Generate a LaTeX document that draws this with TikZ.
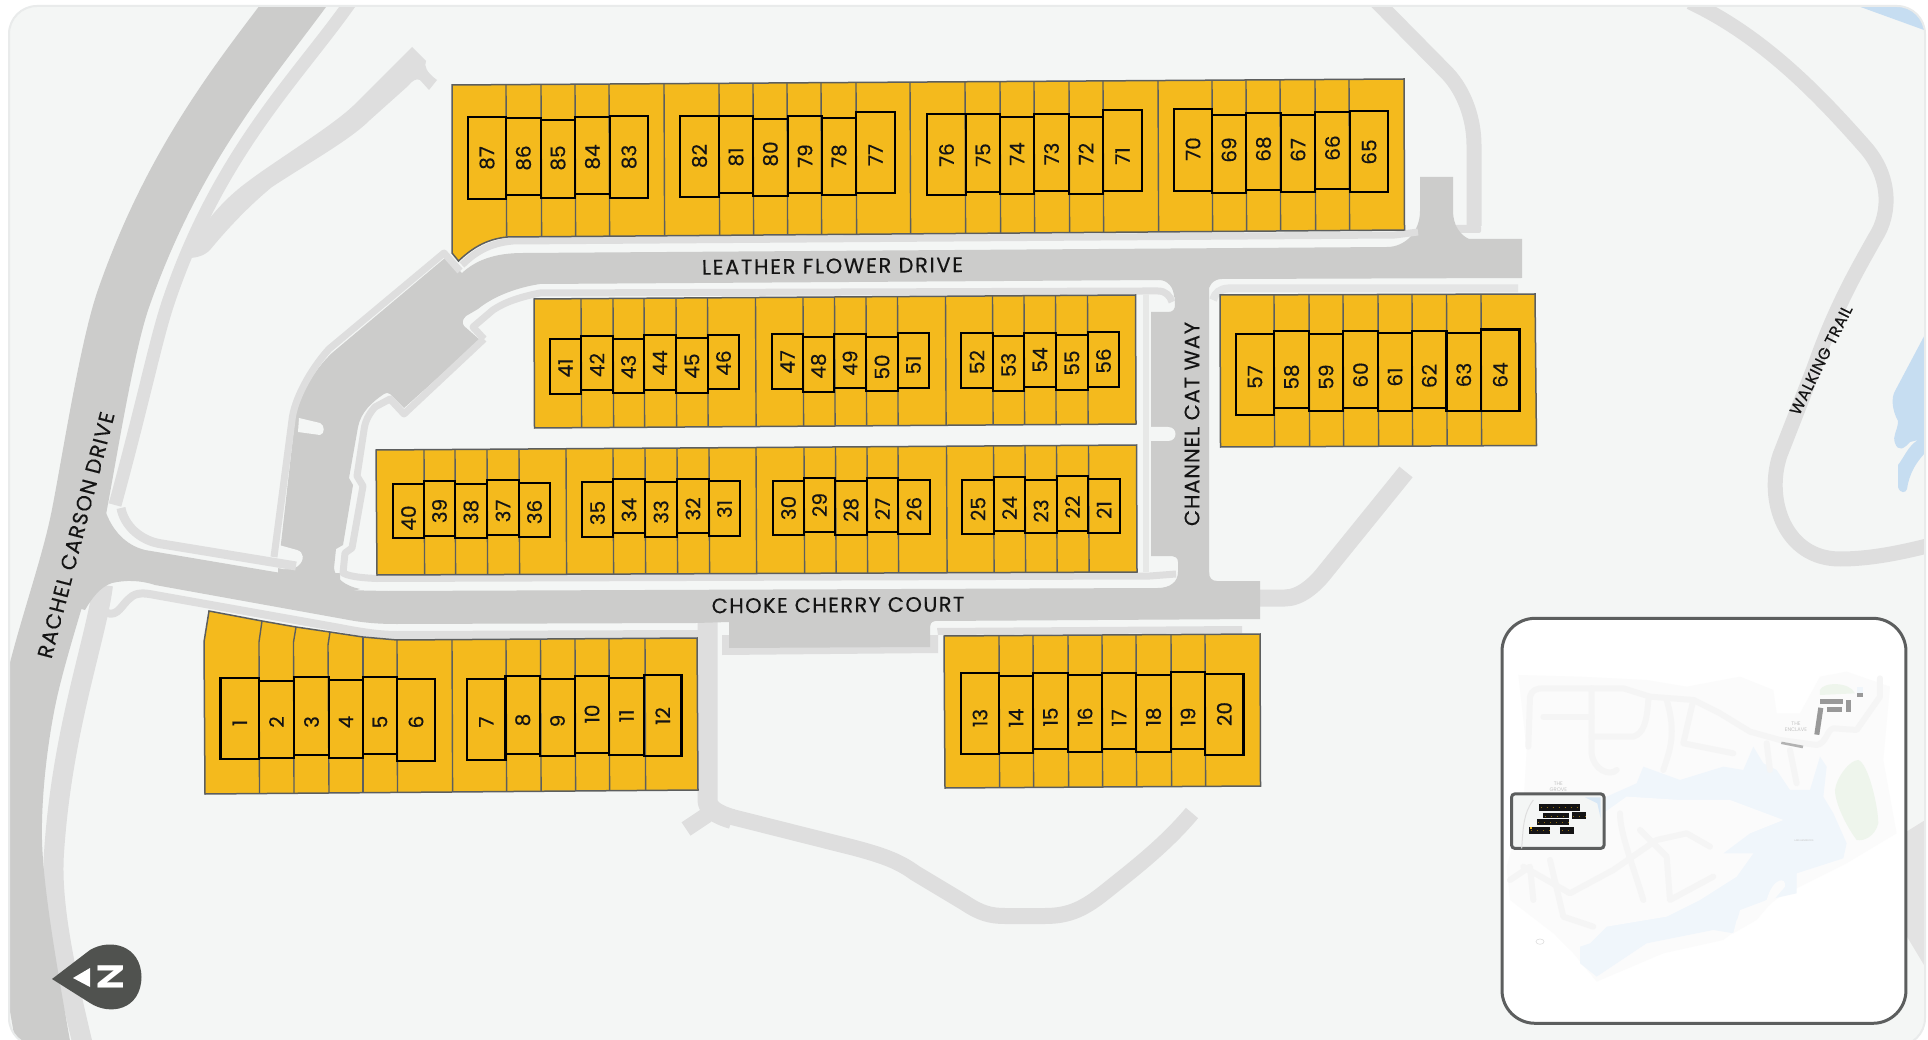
\documentclass[tikz,border=0pt]{standalone}
\usepackage{fontspec}
\setmainfont{Poppins}
\newfontfamily\labfont{Poppins}[FakeBold=0.35]
\newfontfamily\roadfont{Poppins}[FakeBold=0.25]
\newfontfamily\boldfont{Lato Black}
\definecolor{panelc}{HTML}{F4F6F5}
\definecolor{borderc}{HTML}{E9EBEB}
\definecolor{roadc}{HTML}{CCCCCB}
\definecolor{walkc}{HTML}{DEDEDE}
\definecolor{lotc}{HTML}{F4BA1D}
\definecolor{edgec}{HTML}{5C5E5E}
\definecolor{waterc}{HTML}{C6DDF1}
\definecolor{badgec}{HTML}{50524F}
\definecolor{insetwater}{HTML}{F0F6FB}
\definecolor{insetland}{HTML}{FBFBFB}
\definecolor{insetgreen}{HTML}{EEF5EC}
\definecolor{insetroad}{HTML}{F5F5F5}
\definecolor{insettext}{HTML}{C4C4C4}
\tikzset{
  walk/.style={draw=walkc,line cap=butt,line join=round},
  road/.style={draw=roadc,line cap=butt},
  roadfill/.style={fill=roadc},
  blockfill/.style={fill=lotc,draw=edgec,line width=1.5pt,line join=miter},
  divider/.style={draw=edgec,line width=1.4pt},
  footprint/.style={draw=black,line width=2.2pt,line join=miter},
  lotlabel/.style={rotate=90,inner sep=0pt,text=black!92,font=\labfont\fontsize{20}{20}\selectfont},
  roadlabel/.style={inner sep=0pt,text=black!92,font=\roadfont\fontsize{21}{21}\selectfont},
  insetline/.style={draw=insetroad,line width=6pt,line cap=round,line join=round},
  insetlabel/.style={inner sep=0pt,text=insettext,align=center,font=\fontsize{5.2}{6}\selectfont}
}
\newcommand{\fp}[6]{%
  \draw[footprint] (#1,#3) rectangle (#2,#4);
  \pgfmathsetmacro{\labx}{(#1+#2)/2}
  \node[lotlabel] (L#5) at (\labx,#6) {#5};
}
\newcommand{\dividers}[7]{%
  \foreach \dx in {#7}{%
    \pgfmathsetmacro{\dt}{#3+(\dx-#1)/(#2-#1)*(#4-#3)}
    \pgfmathsetmacro{\db}{#5+(\dx-#1)/(#2-#1)*(#6-#5)}
    \draw[divider] (\dx,\dt) -- (\dx+0.6,\db);
  }%
}
\begin{document}
\begin{tikzpicture}[x=1pt,y=-1pt]
\useasboundingbox (0,0) rectangle (1928,1040);
\fill[white] (0,0) rectangle (1928,1040);
\begin{scope}
\clip[rounded corners=28pt] (9,6) rectangle (1925,1046);
\fill[panelc] (0,0) rectangle (1928,1046);
% water
\fill[waterc] (1855,5) -- (1930,5) -- (1930,32) -- (1924,30) -- cycle;
\fill[waterc] (1930,325) -- (1895,391) .. controls (1891,398) and (1892,410) .. (1898,421) .. controls (1898,430) and (1892,436) .. (1895,443) .. controls (1898,452) and (1904,449) .. (1910,442) -- (1918,440) .. controls (1908,446) and (1905,456) .. (1898,465) -- (1898,487) .. controls (1900,494) and (1906,493) .. (1907,489) .. controls (1909,475) and (1915,462) .. (1930,448) -- cycle;
% grey land behind the inset
\fill[walkc!85!white] (1906,832) -- (1930,817) -- (1930,975) -- (1906,935) -- cycle;
% walking paths
\draw[walk,line width=15pt] (1690,2) .. controls (1760,35) and (1815,90) .. (1865,147) .. controls (1890,175) and (1892,212) .. (1875,238) .. controls (1860,265) and (1836,305) .. (1814,368) -- (1780,455) .. controls (1765,500) and (1785,559) .. (1840,559) .. controls (1870,559) and (1900,553) .. (1935,544);
\draw[walk,line width=15pt] (1375,0) -- (1447,73) .. controls (1465,92) and (1474,120) .. (1474,145) -- (1474,226);
\fill[walkc,rounded corners=2pt] (1454,225) rectangle (1481,233);
\draw[walk,line width=16pt] (732,817) -- (855,848) .. controls (885,856) and (900,862) .. (915,873) -- (965,903) .. controls (980,913) and (990,916) .. (1005,916) -- (1045,916) .. controls (1070,916) and (1085,908) .. (1105,892) .. controls (1135,868) and (1165,845) .. (1192,813);
\draw[walk,line width=20pt] (707.5,618) -- (707.5,800) .. controls (707.5,808) and (715,814) .. (732,819);
\draw[walk,line width=16pt] (707,815) -- (686,829);
\draw[walk,line width=17pt] (1260,598) -- (1285,598) .. controls (1300,598) and (1315,585) .. (1325,572) -- (1406,472);
\fill[walkc] (203,227) .. controls (225,197) and (243,185) .. (261,172) .. controls (300,145) and (340,120) .. (357,102) -- (412,47) -- (426,61) .. controls (424,66) and (426,72) .. (437,80) -- (429,90) -- (420,80) .. controls (416,78) and (412,81) .. (408,86) -- (370,120) .. controls (350,140) and (310,162) .. (272,187) .. controls (250,205) and (228,228) .. (210,250) .. controls (204,256) and (196,258) .. (188,258) -- cycle;
\draw[walk,line width=13pt] (352,0) .. controls (300,75) and (220,150) .. (169,300) .. controls (156,338) and (145,395) .. (115,505);
\draw[walk,line width=20pt] (103,585) .. controls (96,640) and (62,730) .. (54,853) .. controls (50,910) and (70,990) .. (84,1050);
\draw[walk,line width=8pt] (107,613) .. controls (118,617) and (122,604) .. (130,598) .. controls (136,592) and (145,593) .. (155,595) -- (340,628) .. controls (360,632) and (380,635) .. (397,635) -- (698,634);
% parking bay surround and strip along row E
\fill[walkc] (722,635) -- (938,635) -- (938,653) -- (722,655) -- cycle;
\fill[walkc] (937,628) -- (1242,626) -- (1242,633) -- (938,635) -- cycle;
% road bodies
\draw[road,line width=54pt] (305,-10) .. controls (250,65) and (175,150) .. (123,300) .. controls (106,350) and (88,467) .. (78,517) .. controls (68,567) and (45,630) .. (31,690) .. controls (22,730) and (14,790) .. (15,840) .. controls (16,890) and (30,970) .. (46,1060);
\path[roadfill] (105,510) .. controls (112,530) and (125,545) .. (145,550) -- (281,573) -- (340,573) -- (340,590) -- (388,591) -- (1157.5,588) .. controls (1170,588) and (1178,582) .. (1178,572) -- (1209,572) .. controls (1209,578) and (1212,581) .. (1217,581) -- (1260,581) -- (1260,619) -- (935,621) .. controls (931,622) and (930,624) .. (930,627) -- (930,647) -- (729,648) -- (729,622) -- (696,623) -- (397,624) .. controls (380,624) and (365,623) .. (349,620) -- (155,585) .. controls (140,580) and (125,580) .. (112,583) .. controls (100,587) and (92,598) .. (85,610) -- (50,600) -- (70,520) -- cycle;
\path[roadfill] (278,570) -- (295,420) .. controls (297,400) and (312,372) .. (332,353) -- (445,258) -- (462,273) .. controls (476,260) and (495,253) .. (523,253) -- (1387,247) .. controls (1405,247) and (1420,232) .. (1420,211) -- (1420,177) -- (1453,177) -- (1453,211) .. controls (1453,225) and (1460,235) .. (1469,239) -- (1522,239) -- (1522,278) -- (1222,279) .. controls (1213,279) and (1208,286) .. (1208,293) -- (1174,297) .. controls (1174,288) and (1168,280) .. (1159,280) -- (540,284) .. controls (520,287) and (495,295) .. (478,309) -- (466,316) .. controls (462,320) and (462,323) .. (464,326) -- (480,340) -- (404,408) -- (390,394) .. controls (388,392) and (386,393) .. (384,394) .. controls (372,402) and (361,412) .. (358,427) -- (349,478) -- (353,485) -- (343,545) -- (336,549) -- (334,568) .. controls (335,578) and (345,586) .. (360,589) -- (340,595) -- (278,595) -- cycle;
\path[roadfill] (1174,280) -- (1209,280) -- (1209,575) -- (1178,575) -- (1178,562) .. controls (1178,558) and (1175,556) .. (1172,556) -- (1151,556) -- (1151,312) -- (1168,312) .. controls (1173,312) and (1175,309) .. (1175,305) -- cycle;
% notches
\fill[panelc] (1151,427) -- (1168,427) .. controls (1178,427) and (1178,441) .. (1168,441) -- (1151,441) -- cycle;
\fill[panelc] (279,545) -- (297,550) .. controls (304,552) and (305,560) .. (298,566) .. controls (293,570) and (286,570) .. (278,568) -- cycle;
\fill[panelc] (299,418) -- (320,423) .. controls (325,425) and (325,434) .. (320,435) -- (298,432) -- cycle;
% strips along the roads
\draw[walk,line width=9pt] (121,508) .. controls (124,525) and (140,541) .. (162,544) -- (296,566);
\draw[walk,line width=7pt] (274,557) -- (292,420) .. controls (294,400) and (310,370) .. (329,349) -- (444,253) -- (460,271);
\draw[walk,line width=7pt] (484,339) -- (404,414) -- (390,399) -- (375,407) .. controls (368,415) and (365,422) .. (364,430) -- (357,476) -- (363,486) -- (352,548) -- (345,553) -- (343,573) .. controls (350,577) and (365,578) .. (377,578.5) -- (1150,576);
\draw[walk,line width=7pt] (1150,576) -- (1176,574);
\draw[walk,line width=7pt] (484,339) -- (473,327) -- (493,310) .. controls (505,302) and (520,297) .. (540,293) -- (1143,291);
\draw[walk,line width=7pt] (1143,291) -- (1158,291) .. controls (1166,291) and (1170,296) .. (1172,302);
\draw[walk,line width=7pt] (462,265) .. controls (475,252) and (490,243) .. (513,241) -- (1395,235) -- (1418,232);
\draw[walkc!70!panelc,line width=8pt] (1213,300) .. controls (1215,293) and (1220,289) .. (1228,288.5) -- (1518,288.5);
\draw[draw=walkc!60!panelc,line width=6pt] (1146,294) -- (1146,572);
% lot blocks
\draw[blockfill] (452,85) -- (1404,79) -- (1404.5,230) -- (507.5,237) .. controls (485,239) and (470,250) .. (458.5,261) -- (452,253) -- cycle;
\draw[blockfill] (534,299) -- (1135.5,295) -- (1136,424) -- (534.5,428) -- cycle;
\draw[blockfill] (376,450) -- (1136.5,445) -- (1137,572) -- (377,575) -- cycle;
\draw[blockfill] (209,611) -- (262,621) -- (296,627) -- (330,632) -- (363,637) -- (397,640) -- (697,638) -- (698,790) -- (205,794) -- (204,642) -- cycle;
\draw[blockfill] (944,636) -- (1260,634) -- (1260.5,786) -- (945,788) -- cycle;
\draw[blockfill] (1220,295) -- (1535,294) -- (1536.5,445.5) -- (1220.5,447) -- cycle;
% dividers
\dividers{452}{1404}{85}{79}{237}{230}{506,541,575,609,664,719,753,787,821,856,910,965,1000,1034,1069,1103,1158,1212,1246,1280,1315,1349}
\dividers{534}{1136}{299}{295}{428}{424}{581,613,644,676,707.5,755.5,803,834.5,866,897.5,945.5,992.5,1024,1055.5,1087.5}
\dividers{376}{1137}{450}{445}{575}{572}{424,455,487,519,566,613,645,677,709,756,804,835.5,867,898,946.5,993.5,1025,1056.5,1088.5}
\dividers{944}{1260}{636}{634}{788}{786}{999,1033,1068,1102,1136,1171,1205}
\dividers{1220}{1536}{295}{294}{447}{445.5}{1274,1309,1343,1378,1412,1446.5,1481}
\draw[divider] (262,621) -- (259,642) -- (259.5,793);
\draw[divider] (296,627) -- (293.5,642) -- (294,793);
\draw[divider] (330,632) -- (328,645) -- (329,793);
\draw[divider] (363,637) -- (363,792);
\draw[divider] (397,640) -- (397.5,792);
\dividers{397}{698}{640}{638}{792}{790}{452,506,540.5,575,609,645}
% footprints
\fp{468}{506}{117}{199}{87}{158}
\fp{506}{541}{118}{195}{86}{158}
\fp{541}{575}{120}{198}{85}{158}
\fp{575}{610}{117}{194}{84}{157}
\fp{610}{648}{116}{198}{83}{157}
\fp{680}{719}{116}{197}{82}{156}
\fp{719}{753}{116}{193}{81}{157}
\fp{753}{788}{119}{196}{80}{154}
\fp{788}{822}{116}{193}{79}{156}
\fp{822}{856}{118}{195}{78}{156}
\fp{856}{895}{112}{193}{77}{155}
\fp{927}{966}{114}{195}{76}{155}
\fp{966}{1000}{114}{192}{75}{155}
\fp{1000}{1034}{117}{194}{74}{154}
\fp{1034}{1069}{114}{191}{73}{154}
\fp{1069}{1103}{117}{194}{72}{154}
\fp{1103}{1142}{110}{191}{71}{156}
\fp{1174}{1212}{109}{191}{70}{149}
\fp{1212}{1246}{115}{193}{69}{150}
\fp{1246}{1281}{113}{190}{68}{149}
\fp{1281}{1315}{115}{192}{67}{150}
\fp{1315}{1350}{112}{189}{66}{148}
\fp{1350}{1388}{111}{192}{65}{152}
\fp{550}{581}{339}{394}{41}{368}
\fp{581}{613}{336}{390}{42}{365}
\fp{613}{644}{339}{393}{43}{367}
\fp{644}{676}{335}{390}{44}{363}
\fp{676}{708}{338}{393}{45}{366}
\fp{708}{739}{335}{389}{46}{363}
\fp{772}{803}{334}{389}{47}{362}
\fp{803}{834}{337}{392}{48}{366}
\fp{834}{866}{334}{388}{49}{363}
\fp{866}{898}{337}{391}{50}{367}
\fp{898}{929}{333}{388}{51}{365}
\fp{961}{993}{333}{388}{52}{362}
\fp{993}{1024}{336}{391}{53}{365}
\fp{1024}{1056}{333}{387}{54}{360}
\fp{1056}{1088}{335}{390}{55}{363}
\fp{1088}{1119}{332}{387}{56}{361}
\fp{393}{424}{484}{538}{40}{518}
\fp{424}{455}{481}{536}{39}{511}
\fp{455}{487}{484}{538}{38}{512}
\fp{487}{519}{480}{535}{37}{511}
\fp{519}{550}{483}{537}{36}{512}
\fp{582}{613}{482}{537}{35}{513}
\fp{613}{645}{479}{533}{34}{510}
\fp{645}{677}{482}{537}{33}{512}
\fp{677}{709}{479}{533}{32}{509}
\fp{709}{740}{481}{536}{31}{509}
\fp{773}{804}{481}{535}{30}{508}
\fp{804}{835}{478}{532}{29}{505}
\fp{835}{867}{481}{535}{28}{510}
\fp{867}{898}{478}{532}{27}{509}
\fp{898}{930}{480}{534}{26}{509}
\fp{962}{994}{480}{534}{25}{509}
\fp{994}{1025}{477}{531}{24}{508}
\fp{1025}{1057}{480}{533}{23}{511}
\fp{1057}{1088}{476}{531}{22}{507}
\fp{1088}{1120}{479}{533}{21}{510}
\fp{220.5}{259}{678}{759}{1}{723}
\fp{259}{294}{681}{758}{2}{722}
\fp{294}{329}{677}{755}{3}{722}
\fp{329}{363}{680}{758}{4}{722}
\fp{363}{397}{677}{754}{5}{722}
\fp{397}{435}{679}{761}{6}{722}
\fp{467}{505.5}{679}{760}{7}{722}
\fp{505.5}{540}{676}{754}{8}{720}
\fp{540}{575}{679}{756}{9}{721}
\fp{575}{609}{676}{753}{10}{714}
\fp{609}{644}{678}{755}{11}{716}
\fp{644}{681.5}{675}{756}{12}{716}
\fp{961}{999}{673}{754}{13}{718}
\fp{999}{1033}{676}{753}{14}{718}
\fp{1033}{1068}{673}{749}{15}{717}
\fp{1068}{1102}{675}{752}{16}{717}
\fp{1102}{1136}{673}{749}{17}{718}
\fp{1136}{1171}{675}{752}{18}{717}
\fp{1171}{1205}{672}{749}{19}{717}
\fp{1205}{1243.5}{674}{755}{20}{714}
\fp{1236}{1274}{334}{415}{57}{377}
\fp{1274}{1309}{331}{408}{58}{377}
\fp{1309}{1343}{334}{411}{59}{377}
\fp{1343}{1378}{331}{408}{60}{375}
\fp{1378}{1412}{333}{411}{61}{377}
\fp{1412}{1446.5}{331}{408}{62}{376}
\fp{1446.5}{1481}{333}{411}{63}{375}
\fp{1481}{1519.5}{329.5}{411}{64}{375}
% road labels
\node[roadlabel,rotate=75.5] (rachel) at (76,535) {\addfontfeature{LetterSpace=6}RACHEL CARSON DRIVE};
\node[roadlabel,rotate=0.6] (leather) at (832.5,266) {\addfontfeature{LetterSpace=8}LEATHER FLOWER DRIVE};
\node[roadlabel,rotate=0.4] (choke) at (838,605) {\addfontfeature{LetterSpace=6.5}CHOKE CHERRY COURT};
\node[roadlabel,rotate=90] (channel) at (1192,424) {\addfontfeature{LetterSpace=4}CHANNEL CAT WAY};
\node[roadlabel,rotate=63.4,font=\roadfont\fontsize{16}{16}\selectfont] (trail) at (1821,360) {\addfontfeature{LetterSpace=3}WALKING TRAIL};
% north badge
\fill[badgec] (52,979) -- (90,950) .. controls (110,938) and (141,945) .. (141.5,977) .. controls (141,1010) and (110,1016) .. (90,1003) -- cycle;
\fill[white] (73,978) -- (90,968) -- (90,987) -- cycle;
\node[inner sep=0pt,rotate=90,text=white,font=\boldfont\fontsize{35}{35}\selectfont] (north) at (111,977) {N};
% inset
\begin{scope}[shift={(1480,600)},x=0.3333pt,y=-0.3333pt]
\draw[fill=white,draw=edgec,line width=3pt] (66,55) [rounded corners=33pt] -- (1278,55) -- (1278,1270) -- (66,1270) -- cycle;
\fill[insetland] (115,225) -- (300,230) -- (500,240) -- (620,260) -- (780,230) -- (880,270) -- (890,340) -- (960,340) -- (1020,230) -- (1100,215) -- (1230,260) -- (1210,480) -- (1250,700) -- (1100,790) -- (900,890) -- (730,1020) -- (550,1060) -- (350,1145) -- (280,1060) -- (220,1000) -- (90,900) -- (80,800) -- (130,620) -- (140,450) -- cycle;
\fill[insetwater] (300,1090) -- (350,1130) -- (500,1030) -- (700,990) -- (760,1000) -- (780,930) -- (860,900) -- (950,880) -- (950,820) -- (1090,775) -- (1100,730) -- (1060,640) -- (1030,590) -- (1040,500) -- (1020,470) -- (990,570) -- (930,570) -- (890,510) -- (850,490) -- (820,440) -- (790,510) -- (730,500) -- (600,540) -- (490,500) -- (470,550) -- (380,590) -- (370,640) -- (300,800) -- cycle;
\fill[insetland] (370,640) -- (440,590) -- (600,600) -- (750,600) -- (910,660) -- (810,700) -- (730,760) -- (820,760) -- (770,830) -- (660,900) -- (560,950) -- (380,980) -- (330,1030) -- (270,1050) -- (130,900) -- (100,760) -- (300,740) -- cycle;
\fill[insetland] (860,900) .. controls (880,830) and (920,830) .. (915,860) -- (830,960) -- (760,1000) -- (770,960) -- cycle;
\fill[insetgreen] (1020,270) .. controls (1030,245) and (1110,245) .. (1125,280) -- (1020,285) -- cycle;
\fill[insetgreen] (1135,480) .. controls (1165,490) and (1195,620) .. (1195,670) .. controls (1185,710) and (1150,725) .. (1130,720) .. controls (1100,680) and (1065,610) .. (1065,570) .. controls (1070,530) and (1110,480) .. (1135,480) -- cycle;
\fill[insetwater] (1130,262) rectangle (1148,278);
\draw[insetline] (145,440) -- (150,290) .. controls (155,270) and (170,265) .. (190,265) -- (430,265) -- (510,290) -- (640,300) -- (720,340) -- (810,395) -- (900,420) -- (1010,435) .. controls (1040,430) and (1040,390) .. (1060,385) -- (1130,390) -- (1200,290) -- (1200,235);
\draw[insetline] (335,265) -- (335,460) .. controls (340,510) and (390,530) .. (410,510);
\draw[insetline] (190,350) -- (335,350);
\draw[insetline] (335,410) -- (460,410) .. controls (490,400) and (500,370) .. (505,300);
\draw[insetline] (560,300) .. controls (590,400) and (570,450) .. (550,510);
\draw[insetline] (640,300) -- (610,430) -- (760,460);
\draw[insetline] (130,800) -- (270,880) -- (400,810) -- (530,720) -- (620,700) -- (690,740);
\draw[insetline] (420,640) .. controls (420,700) and (460,800) .. (490,900);
\draw[insetline] (480,690) -- (560,770) -- (570,900) -- (700,830);
\draw[insetline] (90,840) -- (150,800) -- (160,900);
\draw[insetline] (210,780) -- (250,950) -- (340,980);
\draw[insetline] (860,430) -- (870,510);
\draw[insetline] (930,450) -- (950,550);
% the selected frame and its blocks
\draw[fill=panelc,draw=edgec,line width=3pt,rounded corners=3pt] (95,582) rectangle (372,745);
\draw[walkc,line width=1pt] (160,600) .. controls (130,640) and (130,680) .. (125,745);
\fill[waterc!70!white] (315,592) -- (362,592) -- (362,655) -- (352,610) -- cycle;
\fill[black!92] (178,612) rectangle (300,632);
\fill[black!92] (190,640) rectangle (267,655);
\fill[black!92] (275,637) rectangle (318,658);
\fill[black!92] (170,658) rectangle (267,674);
\fill[black!92] (148,682) rectangle (211,702);
\fill[black!92] (241,682) rectangle (283,702);
\fill[lotc] (150,682) rectangle (155,687);
\draw[lotc!60!black,line width=.5pt,dash pattern=on 1pt off 5pt] (182,622) -- (298,622);
\draw[lotc!60!black,line width=.5pt,dash pattern=on 1pt off 5pt] (194,648) -- (265,648);
\draw[lotc!60!black,line width=.5pt,dash pattern=on 1pt off 5pt] (279,648) -- (316,648);
\draw[lotc!60!black,line width=.5pt,dash pattern=on 1pt off 5pt] (174,666) -- (265,666);
\draw[lotc!60!black,line width=.5pt,dash pattern=on 1pt off 5pt] (152,692) -- (209,692);
\draw[lotc!60!black,line width=.5pt,dash pattern=on 1pt off 5pt] (245,692) -- (281,692);
% enclave buildings
\fill[black!40] (1020,296) rectangle (1090,312);
\fill[black!40] (1042,322) rectangle (1086,336);
\fill[black!40] (1097,300) rectangle (1112,336);
\fill[black!40] (1015,322) -- (1030,325) -- (1018,405) -- (1003,403) -- cycle;
\fill[black!30] (905,425) -- (970,437) -- (968,445) -- (903,432) -- cycle;
\fill[black!40] (1130,280) rectangle (1150,292);
\draw[walkc,line width=.6pt] (180,1025) ellipse (12 and 8);
\node[insetlabel] (grove) at (235,561) {THE\\GROVE};
\node[insetlabel] (enclave) at (948,381) {THE\\ENCLAVE};
\node[insetlabel,font=\fontsize{2.4}{3}\selectfont] (lake) at (972,722) {LAKE HENDRICKS};
\end{scope}
\end{scope}
\draw[borderc,line width=2pt,rounded corners=28pt] (9,6) rectangle (1925,1046);
\end{tikzpicture}
\end{document}
